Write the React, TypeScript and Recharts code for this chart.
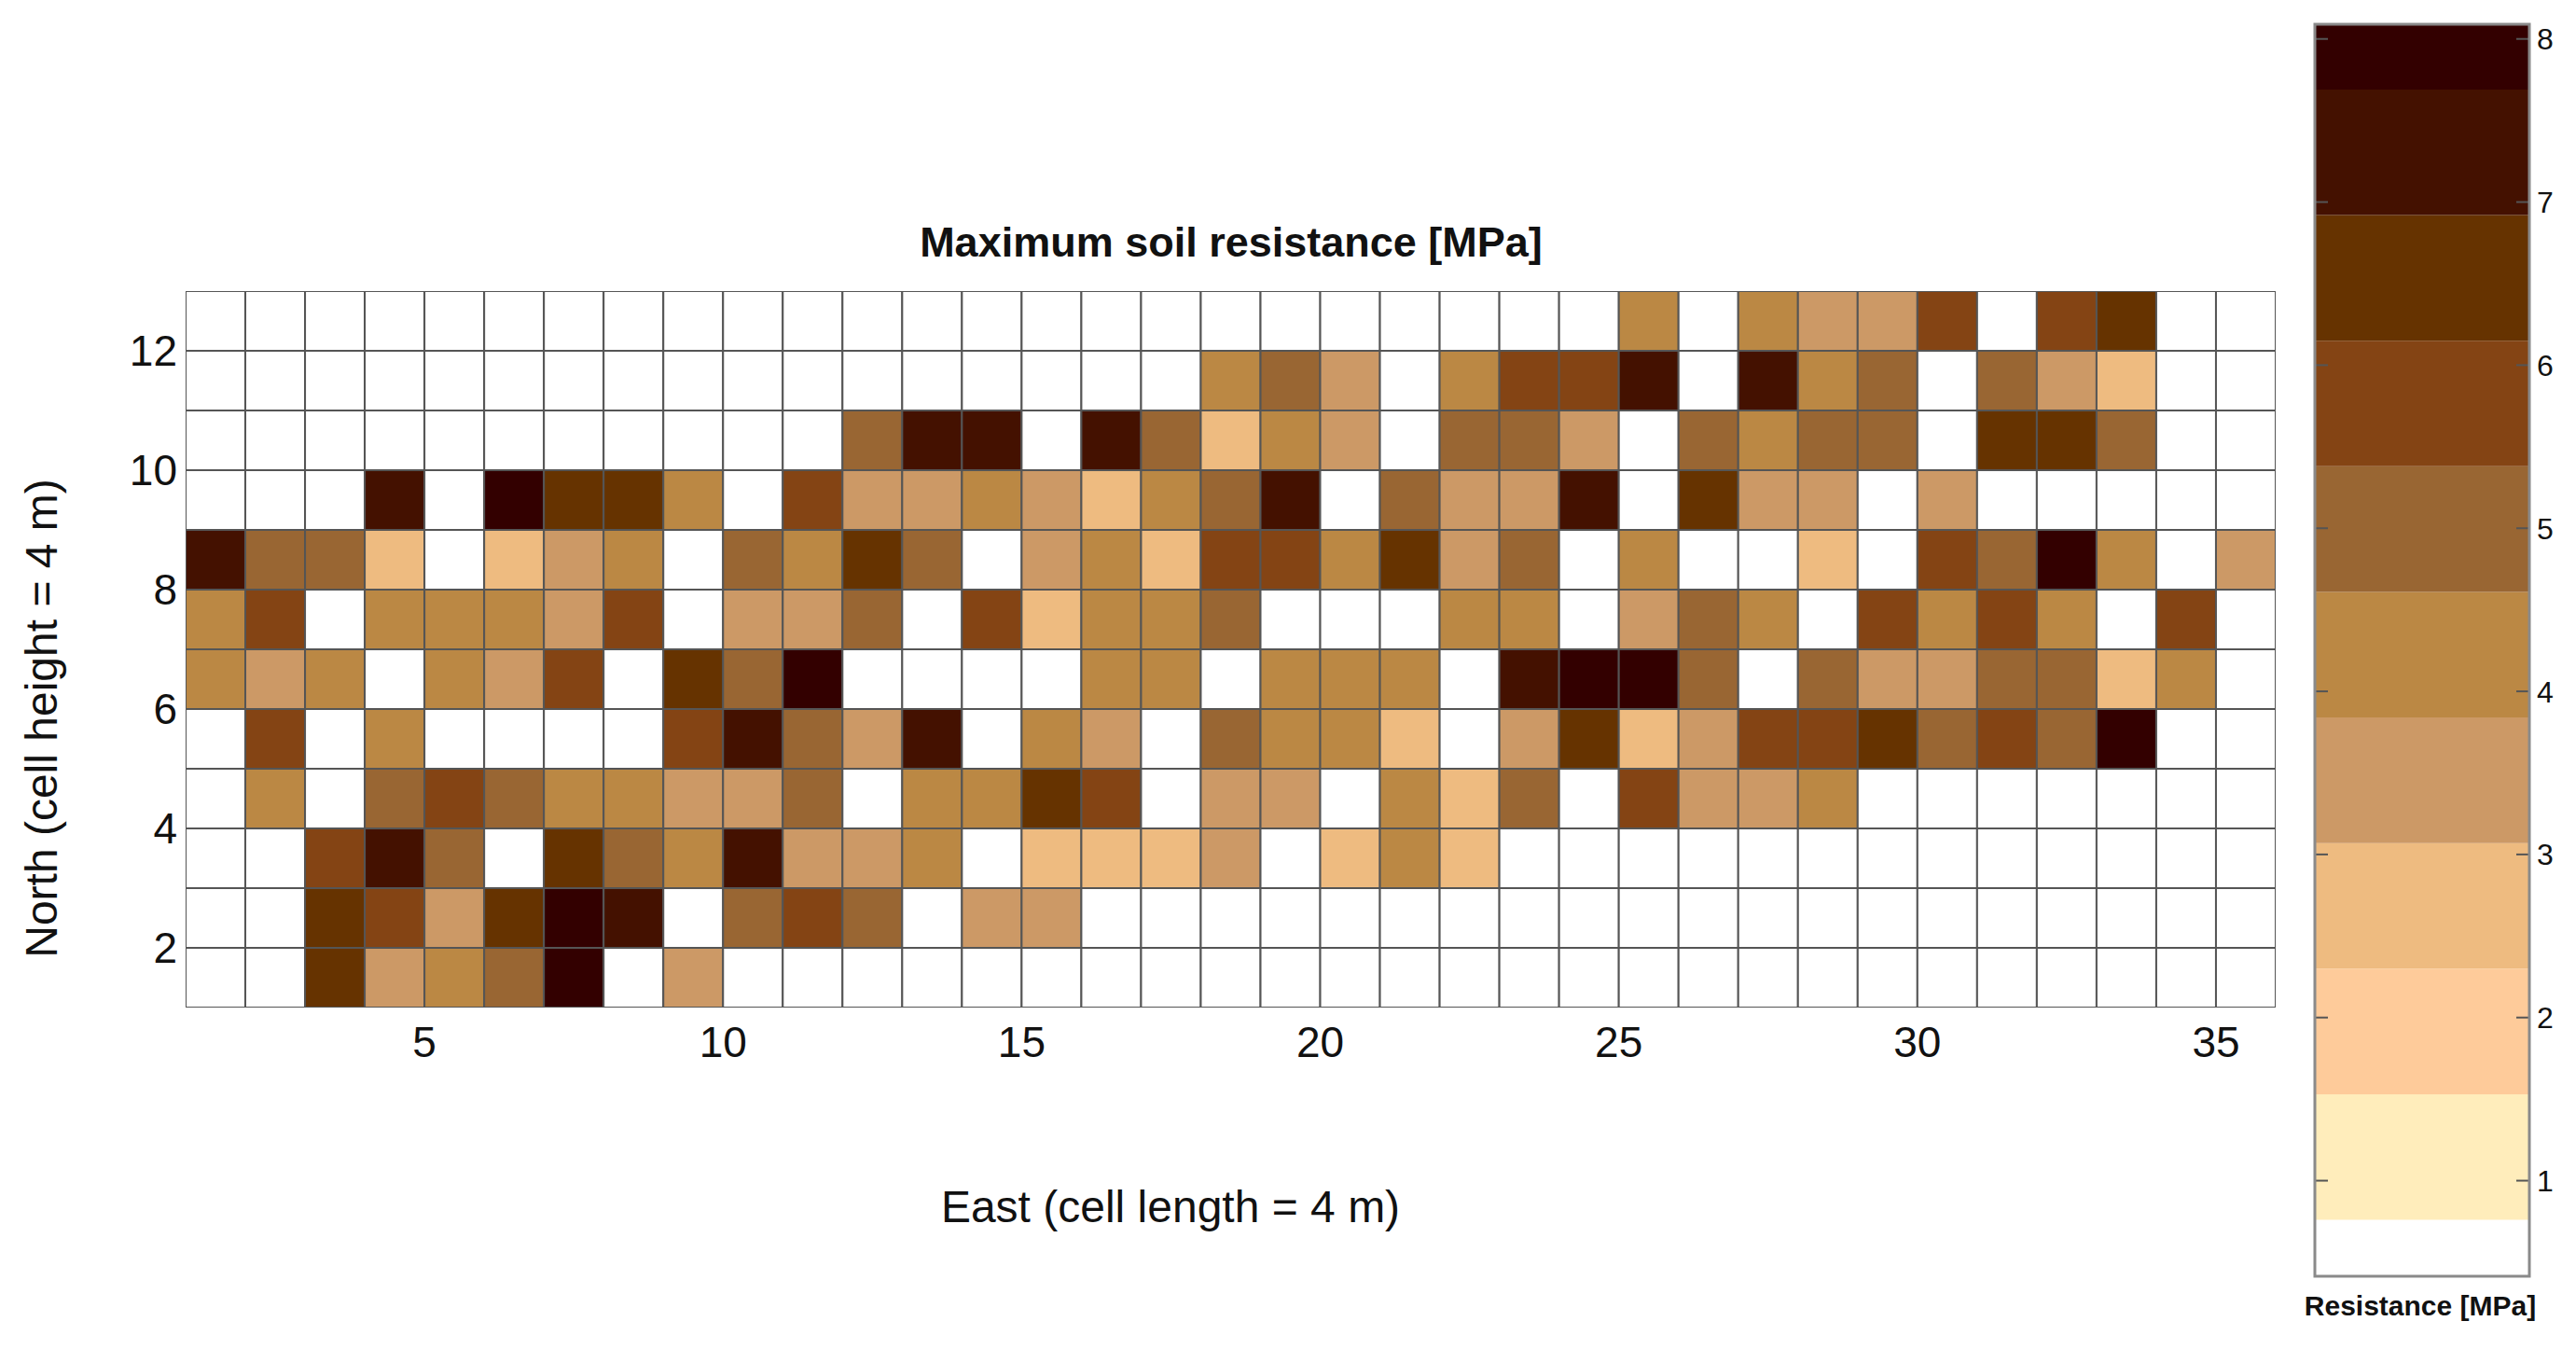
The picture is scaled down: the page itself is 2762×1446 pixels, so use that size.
import React from 'react';
import { ScatterChart, Scatter, XAxis, YAxis, BarChart, Bar } from 'recharts';

// resistance per cell, MPa (0 = no measurement); one array per northing row, columns 1..35
const row12 = [0,0,0,0,0,0,0,0,0,0, 0,0,0,0,0,0,0,0,0,0, 0,0,0,0,4.2,0,4.2,3.5,3.5,5.8, 0,5.8,6.5,0,0];
const row11 = [0,0,0,0,0,0,0,0,0,0, 0,0,0,0,0,0,0,4.2,5.0,3.5, 0,4.2,5.8,5.8,7.3,0,7.3,4.2,5.0,0, 5.0,3.5,2.7,0,0];
const row10 = [0,0,0,0,0,0,0,0,0,0, 0,5.0,7.3,7.3,0,7.3,5.0,2.7,4.2,3.5, 0,5.0,5.0,3.5,0,5.0,4.2,5.0,5.0,0, 6.5,6.5,5.0,0,0];
const row9 = [0,0,0,7.3,0,8.0,6.5,6.5,4.2,0, 5.8,3.5,3.5,4.2,3.5,2.7,4.2,5.0,7.3,0, 5.0,3.5,3.5,7.3,0,6.5,3.5,3.5,0,3.5, 0,0,0,0,0];
const row8 = [7.3,5.0,5.0,2.7,0,2.7,3.5,4.2,0,5.0, 4.2,6.5,5.0,0,3.5,4.2,2.7,5.8,5.8,4.2, 6.5,3.5,5.0,0,4.2,0,0,2.7,0,5.8, 5.0,8.0,4.2,0,3.5];
const row7 = [4.2,5.8,0,4.2,4.2,4.2,3.5,5.8,0,3.5, 3.5,5.0,0,5.8,2.7,4.2,4.2,5.0,0,0, 0,4.2,4.2,0,3.5,5.0,4.2,0,5.8,4.2, 5.8,4.2,0,5.8,0];
const row6 = [4.2,3.5,4.2,0,4.2,3.5,5.8,0,6.5,5.0, 8.0,0,0,0,0,4.2,4.2,0,4.2,4.2, 4.2,0,7.3,8.0,8.0,5.0,0,5.0,3.5,3.5, 5.0,5.0,2.7,4.2,0];
const row5 = [0,5.8,0,4.2,0,0,0,0,5.8,7.3, 5.0,3.5,7.3,0,4.2,3.5,0,5.0,4.2,4.2, 2.7,0,3.5,6.5,2.7,3.5,5.8,5.8,6.5,5.0, 5.8,5.0,8.0,0,0];
const row4 = [0,4.2,0,5.0,5.8,5.0,4.2,4.2,3.5,3.5, 5.0,0,4.2,4.2,6.5,5.8,0,3.5,3.5,0, 4.2,2.7,5.0,0,5.8,3.5,3.5,4.2,0,0, 0,0,0,0,0];
const row3 = [0,0,5.8,7.3,5.0,0,6.5,5.0,4.2,7.3, 3.5,3.5,4.2,0,2.7,2.7,2.7,3.5,0,2.7, 4.2,2.7,0,0,0,0,0,0,0,0, 0,0,0,0,0];
const row2 = [0,0,6.5,5.8,3.5,6.5,8.0,7.3,0,5.0, 5.8,5.0,0,3.5,3.5,0,0,0,0,0, 0,0,0,0,0,0,0,0,0,0, 0,0,0,0,0];
const row1 = [0,0,6.5,3.5,4.2,5.0,8.0,0,3.5,0, 0,0,0,0,0,0,0,0,0,0, 0,0,0,0,0,0,0,0,0,0, 0,0,0,0,0];

const xTicks = [5, 10, 15, 20, 25, 30, 35];
const yTicks = [2, 4, 6, 8, 10, 12];

// colour bar: band edges (MPa) and colours
const bandEdges = [0, 0.76, 1.53, 2.3, 3.07, 3.84, 4.61, 5.38, 6.15, 6.92, 7.69, 8.09];
const bandColors = ['#FFFFFF', '#FFEDBB', '#FECB9A', '#EEBB80', '#CC9966', '#BB8844', '#996633', '#844414', '#663300', '#441100', '#330000'];
const cbTicks = [1, 2, 3, 4, 5, 6, 7, 8];

const FONT = '"Liberation Sans", Arial, Helvetica, sans-serif';
const PLOT_W = 2241;
const PLOT_H = 768;
const CW = PLOT_W / 35;
const CH = PLOT_H / 12;
const CB_PAD = 20;

const rows = [row1, row2, row3, row4, row5, row6, row7, row8, row9, row10, row11, row12];
const cells = rows.flatMap((r, j) => r.map((v, i) => ({ x: i + 1.5, y: j + 1.5, v })));

function colorFor(v: number) {
  if (!v) return '#FFFFFF';
  for (let k = bandEdges.length - 2; k >= 0; k--) {
    if (v >= bandEdges[k]) return bandColors[k];
  }
  return '#FFFFFF';
}

const cbRow: Record<string, number | string> = { name: 'cb' };
bandColors.forEach((_, k) => { cbRow['b' + k] = +(bandEdges[k + 1] - bandEdges[k]).toFixed(3); });
const cbData = [cbRow];

const CellShape = (props: any) => {
  const { cx, cy, payload } = props;
  return (
    <rect x={cx - CW / 2} y={cy - CH / 2} width={CW} height={CH}
      fill={colorFor(payload.v)} stroke="#555" strokeWidth={2} />
  );
};

const CbTick = (props: any) => {
  const { x, y, payload } = props;
  return (
    <g>
      <line x1={0} x2={14} y1={y} y2={y} stroke="#555" strokeWidth={2} />
      <line x1={216} x2={230} y1={y} y2={y} stroke="#555" strokeWidth={2} />
      <text x={x} y={y} dy="0.36em" textAnchor="start" fontSize={32} fontFamily={FONT} fill="#111">
        {payload.value}
      </text>
    </g>
  );
};

export default function App() {
  return (
    <div style={{ position: 'absolute', left: 0, top: 0, width: 2762, height: 1446, background: '#fff' }}>
      <div style={{ position: 'absolute', left: 0, top: 0 }}>
        <ScatterChart width={2470} height={1446} margin={{ top: 312, right: 30, bottom: 306, left: 139 }}>
          <XAxis type="number" dataKey="x" domain={[1, 36]} ticks={xTicks} allowDataOverflow
            axisLine={false} tickLine={false} tickSize={0} tickMargin={20} height={60}
            tick={{ fontSize: 46, fill: '#111', fontFamily: FONT }} interval={0} />
          <YAxis type="number" dataKey="y" domain={[1, 13]} ticks={yTicks} allowDataOverflow
            axisLine={false} tickLine={false} tickSize={0} tickMargin={9} width={60}
            tick={{ fontSize: 46, fill: '#111', fontFamily: FONT }} interval={0} />
          <Scatter data={cells} shape={CellShape} isAnimationActive={false} />
        </ScatterChart>
      </div>

      <div style={{ position: 'absolute', left: 2482, top: 26 - CB_PAD }}>
        <BarChart width={280} height={1342 + 2 * CB_PAD} data={cbData}
          margin={{ top: CB_PAD, right: 0, bottom: CB_PAD, left: 0 }}
          barCategoryGap={0} barGap={0}>
          <XAxis dataKey="name" hide />
          <YAxis type="number" orientation="right" domain={[0.414, 8.09]} ticks={cbTicks} allowDataOverflow
            axisLine={false} tickLine={false} tickSize={0} tickMargin={8} width={50} tick={<CbTick />} interval={0} />
          {bandColors.map((c, k) => (
            <Bar key={k} dataKey={'b' + k} stackId="cb" fill={c} isAnimationActive={false} />
          ))}
        </BarChart>
      </div>

      <svg width={2762} height={1446} style={{ position: 'absolute', left: 0, top: 0, pointerEvents: 'none' }}>
        <rect x={2482} y={26} width={230} height={1342} fill="none" stroke="#8a8a8a" strokeWidth={3} />
        <text x={1320} y={275} textAnchor="middle" fontSize={45} fontWeight="bold" fontFamily={FONT} fill="#111">
          Maximum soil resistance [MPa]
        </text>
        <text x={1255} y={1310} textAnchor="middle" fontSize={48} fontFamily={FONT} fill="#111">
          East (cell length = 4 m)
        </text>
        <text transform="translate(61,770) rotate(-90)" textAnchor="middle" fontSize={48} fontFamily={FONT} fill="#111">
          North (cell height = 4 m)
        </text>
        <text x={2595} y={1410} textAnchor="middle" fontSize={30} fontWeight="bold" fontFamily={FONT} fill="#111">
          Resistance [MPa]
        </text>
      </svg>
    </div>
  );
}
